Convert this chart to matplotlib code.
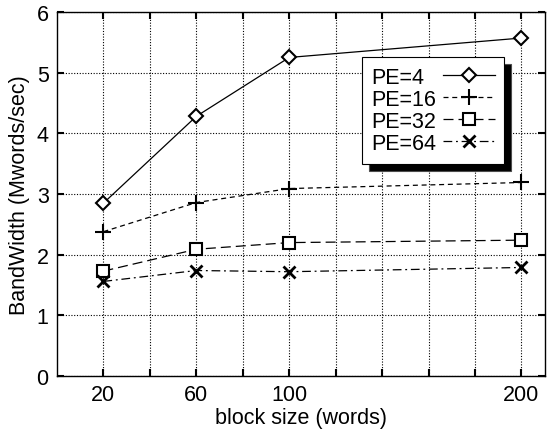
import matplotlib
matplotlib.use("Agg")
from matplotlib import pyplot as plt

# data
block_size = [20, 60, 100, 200]
pe4 = [2.85, 4.28, 5.25, 5.57]
pe16 = [2.38, 2.86, 3.09, 3.19]
pe32 = [1.73, 2.09, 2.20, 2.24]
pe64 = [1.56, 1.74, 1.72, 1.79]

x_labelled = [20, 60, 100, 200]

plt.rcParams["font.family"] = ["Liberation Sans", "DejaVu Sans"]
plt.rcParams["font.size"] = 15.5

fig = plt.figure(figsize=(5.53, 4.31), dpi=100)
ax = fig.add_axes([0.103, 0.125, 0.882, 0.845])

lw = 0.9
ax.plot(block_size, pe4, color="black", linewidth=lw, linestyle="-",
        marker="D", markersize=7.5, markerfacecolor="white", markeredgewidth=1.5, label="PE=4")
ax.plot(block_size, pe16, color="black", linewidth=lw, linestyle=(0, (4, 3)),
        marker="+", markersize=11, markeredgewidth=1.5, label="PE=16")
ax.plot(block_size, pe32, color="black", linewidth=lw, linestyle=(0, (8, 4)),
        marker="s", markersize=8, markerfacecolor="white", markeredgewidth=1.5, label="PE=32")
ax.plot(block_size, pe64, color="black", linewidth=lw, linestyle=(0, (7, 3, 1.5, 3)),
        marker="x", markersize=8, markeredgewidth=2, label="PE=64")

ax.set_xlim(0, 210)
ax.set_ylim(0, 6)
ax.set_xticks(range(20, 201, 20))
ax.set_xticklabels([str(v) if v in x_labelled else "" for v in range(20, 201, 20)])
ax.set_yticks(range(0, 7))

ax.tick_params(direction="in", top=True, right=True, length=5, width=1.5, pad=6)
ax.grid(True, color="black", linestyle=(0, (1, 1.5)), linewidth=0.8)
for s in ax.spines.values():
    s.set_linewidth(1.0)

ax.set_xlabel("block size (words)", labelpad=1)
ax.set_ylabel("BandWidth (Mwords/sec)", labelpad=5)

leg = ax.legend(loc="upper left", bbox_to_anchor=(0.625, 0.876), borderaxespad=0,
                markerfirst=False, handlelength=2.4, handletextpad=0.3, labelspacing=0.05,
                borderpad=0.45, fancybox=False, framealpha=1, edgecolor="black",
                shadow={"ox": 5, "oy": -5, "facecolor": "black", "alpha": 1})
leg.get_frame().set_linewidth(0.8)

# left-align the labels: widen the gap after shorter labels
renderer = fig.canvas.get_renderer()
widths = [t.get_window_extent(renderer).width for t in leg.texts]
rows = leg._legend_handle_box.get_children()[0].get_children()
for row, w in zip(rows, widths):
    row.sep += (max(widths) - w) * 72 / fig.dpi

fig.savefig("out.png", dpi=100)
